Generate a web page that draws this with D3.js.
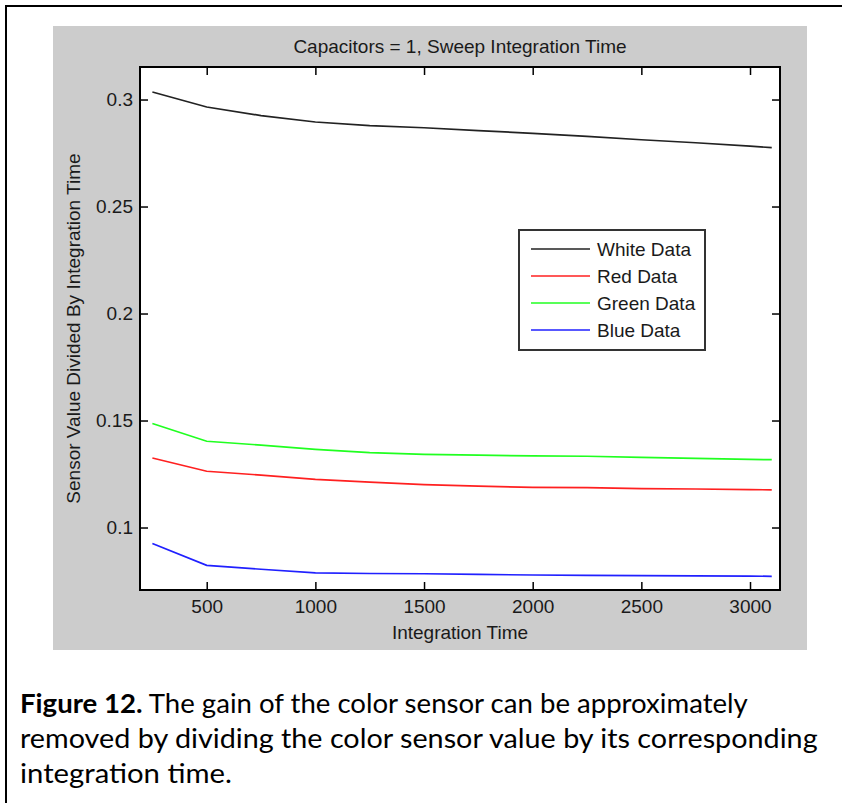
<!DOCTYPE html>
<html>
<head>
<meta charset="utf-8">
<script src="https://cdn.jsdelivr.net/npm/d3@7"></script>
<style>
  body { margin: 0; background: #fff; }
  svg text { font-family: "Liberation Sans", Arial, sans-serif; fill: #1a1a1a; }
  .caption text { font-family: Lato, "Open Sans", sans-serif; fill: #000; }
</style>
</head>
<body>
<div id="chart"></div>
<script>
// integration time sweep (x) and sensor value / integration time per channel
var intTime = [250, 500, 750, 1000, 1250, 1500, 1750, 2000, 2250, 2500, 2750, 3000, 3100];
var whiteData = [0.3035, 0.2965, 0.2925, 0.2895, 0.2878, 0.2868, 0.2855, 0.2842, 0.2828, 0.2812, 0.2798, 0.2782, 0.2775];
var redData   = [0.1325, 0.1263, 0.1245, 0.1225, 0.1212, 0.1200, 0.1193, 0.1188, 0.1186, 0.1182, 0.1180, 0.1177, 0.1176];
var greenData = [0.1486, 0.1403, 0.1385, 0.1365, 0.1350, 0.1342, 0.1338, 0.1335, 0.1333, 0.1328, 0.1323, 0.1318, 0.1317];
var blueData  = [0.0925, 0.0823, 0.0805, 0.0788, 0.0785, 0.0784, 0.0781, 0.0778, 0.0776, 0.0775, 0.0774, 0.0773, 0.0772];

var seriesNames = ["White Data", "Red Data", "Green Data", "Blue Data"];
var seriesColors = ["#222222", "#ff2020", "#20ff20", "#2020ff"];
var xTicks = [500, 1000, 1500, 2000, 2500, 3000];
var yTicks = [0.1, 0.15, 0.2, 0.25, 0.3];

var titleText = "Capacitors = 1, Sweep Integration Time";
var xLabel = "Integration Time";
var yLabel = "Sensor Value Divided By Integration Time";
var captionBold = "Figure 12.";
var captionLines = [
  " The gain of the color sensor can be approximately",
  "removed by dividing the color sensor value by its corresponding",
  "integration time."
];

var svgWidth = 842;
var svgHeight = 803;

var plot = { left: 140, right: 780, top: 67, bottom: 590 };

var svg = d3.select("#chart")
  .append("svg")
  .attr("width", svgWidth)
  .attr("height", svgHeight);

svg.append("rect")
  .attr("width", svgWidth).attr("height", svgHeight)
  .attr("fill", "#fff");

// outer text-box frame (cut off at right and bottom)
svg.append("rect")
  .attr("x", 6).attr("y", 6)
  .attr("width", 900).attr("height", 900)
  .attr("fill", "none")
  .attr("stroke", "#000")
  .attr("stroke-width", 2);

// matlab grey figure
svg.append("rect")
  .attr("x", 53).attr("y", 26)
  .attr("width", 754).attr("height", 624)
  .attr("fill", "#cccccc");

svg.append("rect")
  .attr("x", plot.left).attr("y", plot.top)
  .attr("width", plot.right - plot.left)
  .attr("height", plot.bottom - plot.top)
  .attr("fill", "#fff");

var x = d3.scaleLinear().domain([193, 3138]).range([plot.left, plot.right]);
var y = d3.scaleLinear().domain([0.0708, 0.3152]).range([plot.bottom, plot.top]);

var fmt = d3.format("");

function styleAxis(g) {
  g.select(".domain").remove();
  g.selectAll(".tick line").attr("stroke", "#000").attr("stroke-width", 1.5);
  g.selectAll(".tick text").attr("font-size", 19).attr("fill", "#1a1a1a");
}

svg.append("g")
  .attr("transform", `translate(0, ${plot.bottom})`)
  .call(d3.axisBottom(x).tickValues(xTicks).tickSize(-8).tickPadding(10).tickFormat(fmt))
  .call(styleAxis);

svg.append("g")
  .attr("transform", `translate(0, ${plot.top})`)
  .call(d3.axisTop(x).tickValues(xTicks).tickSize(-8).tickFormat(""))
  .call(styleAxis);

svg.append("g")
  .attr("transform", `translate(${plot.left}, 0)`)
  .call(d3.axisLeft(y).tickValues(yTicks).tickSize(-8).tickPadding(7).tickFormat(d3.format("")))
  .call(styleAxis);

svg.append("g")
  .attr("transform", `translate(${plot.right}, 0)`)
  .call(d3.axisRight(y).tickValues(yTicks).tickSize(-8).tickFormat(""))
  .call(styleAxis);

// plot box
svg.append("rect")
  .attr("x", plot.left).attr("y", plot.top)
  .attr("width", plot.right - plot.left)
  .attr("height", plot.bottom - plot.top)
  .attr("fill", "none")
  .attr("stroke", "#000")
  .attr("stroke-width", 2);

var allSeries = [whiteData, redData, greenData, blueData];

var line = d3.line()
  .x((d, i) => x(intTime[i]))
  .y(d => y(d));

svg.selectAll(".series")
  .data(allSeries)
  .enter()
  .append("path")
  .attr("class", "series")
  .attr("d", d => line(d))
  .attr("fill", "none")
  .attr("stroke", (d, i) => seriesColors[i])
  .attr("stroke-width", 1.7);

// legend
var legend = svg.append("g").attr("transform", "translate(519, 230)");
legend.append("rect")
  .attr("width", 186).attr("height", 120)
  .attr("fill", "#fff")
  .attr("stroke", "#333")
  .attr("stroke-width", 2);

var items = legend.selectAll(".item")
  .data(seriesNames)
  .enter()
  .append("g")
  .attr("class", "item")
  .attr("transform", (d, i) => `translate(0, ${19 + i * 27})`);

items.append("line")
  .attr("x1", 12).attr("x2", 71)
  .attr("stroke", (d, i) => seriesColors[i])
  .attr("stroke-width", 1.7);

items.append("text")
  .attr("x", 78)
  .attr("dy", "0.35em")
  .attr("font-size", 19)
  .text(d => d);

// titles
svg.append("text")
  .attr("x", (plot.left + plot.right) / 2)
  .attr("y", 53)
  .attr("text-anchor", "middle")
  .attr("font-size", 19)
  .text(titleText);

svg.append("text")
  .attr("x", (plot.left + plot.right) / 2)
  .attr("y", 639)
  .attr("text-anchor", "middle")
  .attr("font-size", 19)
  .text(xLabel);

svg.append("text")
  .attr("transform", `translate(80, ${(plot.top + plot.bottom) / 2}) rotate(-90)`)
  .attr("text-anchor", "middle")
  .attr("font-size", 19)
  .text(yLabel);

// caption
var cap = svg.append("g").attr("class", "caption");
var capSize = 26;
var capX = 20;
var capY = [713, 748, 783];
var capWidths = [728, 798, 212];   // line widths in the original (narrow face)

var first = cap.append("text")
  .attr("x", capX).attr("y", capY[0])
  .attr("font-size", capSize);
first.append("tspan").attr("font-weight", "bold").text(captionBold);
first.append("tspan").text(captionLines[0]);

cap.append("text")
  .attr("x", capX).attr("y", capY[1])
  .attr("font-size", capSize)
  .text(captionLines[1]);

cap.append("text")
  .attr("x", capX).attr("y", capY[2])
  .attr("font-size", capSize)
  .text(captionLines[2]);

// squeeze each caption line to the width it has in the original
cap.selectAll("text").each(function(d, i) {
  var w = this.getComputedTextLength();
  var k = capWidths[i] / w;
  d3.select(this).attr("transform",
    `translate(${capX}, 0) scale(${k}, 1) translate(${-capX}, 0)`);
});
</script>
</body>
</html>
